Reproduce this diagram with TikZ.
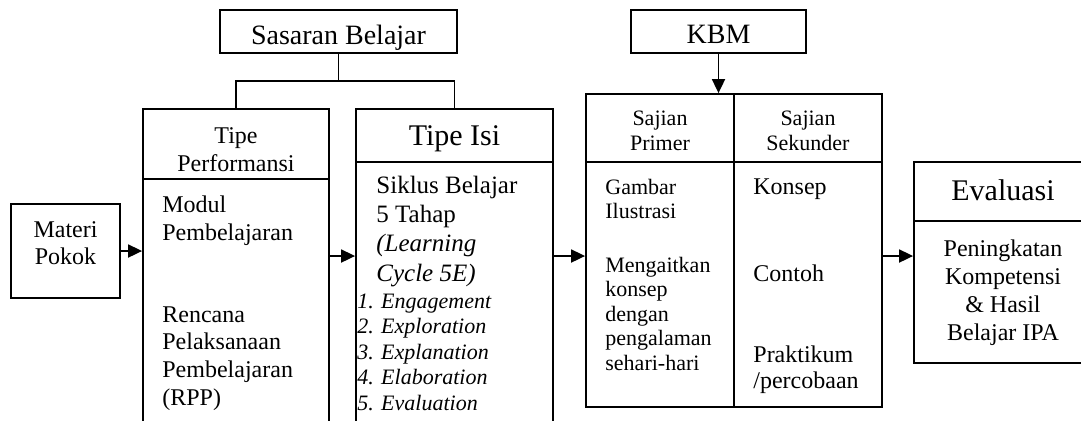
\documentclass[tikz,border=0pt]{standalone}
\usepackage{fontspec}
\setmainfont{Liberation Serif}
\usetikzlibrary{arrows.meta}

\begin{document}
\begin{tikzpicture}[x=0.5pt,y=-0.5pt,
    box/.style={draw,line width=0.9pt,inner sep=0pt},
    txt/.style={inner sep=0pt,align=left,anchor=base west},
    ctr/.style={inner sep=0pt,align=center,anchor=base},
    link/.style={line width=0.9pt},
    arr/.style={line width=0.9pt,-{Triangle[length=7pt,width=6.5pt]}}]
  \useasboundingbox (0,0) rectangle (1081,420);
  % Top boxes
  \node[box,minimum width=118.5pt,minimum height=21.5pt] (sasaran) at (338.5,31.5) {};
  \node[box,minimum width=87.5pt,minimum height=21.5pt] (kbm) at (718.5,31.5) {};
  % Materi Pokok
  \node[box,minimum width=54.5pt,minimum height=47pt] (materi) at (65.5,251) {};
  % Tipe Performansi
  \node[box,minimum width=93pt,minimum height=35pt] (tpHead) at (236,144) {};
  \node[box,minimum width=93pt,minimum height=125.5pt] (tpBody) at (236,304.5) {};
  % Tipe Isi
  \node[box,minimum width=98.5pt,minimum height=26.5pt] (tiHead) at (454.5,135.5) {};
  \node[box,minimum width=98.5pt,minimum height=134pt] (tiBody) at (454.5,296) {};
  % KBM table
  \node[box,minimum width=74pt,minimum height=34pt] (priHead) at (660,128) {};
  \node[box,minimum width=74pt,minimum height=34pt] (sekHead) at (808,128) {};
  \node[box,minimum width=74pt,minimum height=122.5pt] (priBody) at (660,284.5) {};
  \node[box,minimum width=74pt,minimum height=122.5pt] (sekBody) at (808,284.5) {};
  % Evaluasi
  \node[box,minimum width=89pt,minimum height=29.5pt] (evHead) at (1003,191.5) {};
  \node[box,minimum width=89pt,minimum height=71pt] (evBody) at (1003,292) {};

  % Labels (multi-line ones sit on the baseline of their last line)
  \node[ctr,font=\fontsize{14}{16}\selectfont] (sasaranTxt) at (338.5,44) {Sasaran Belajar};
  \node[ctr,font=\fontsize{14}{16}\selectfont] (kbmTxt) at (718.5,43) {KBM};
  \node[ctr,font=\fontsize{12}{13.5}\selectfont] (materiTxt) at (65.5,264) {Materi\\Pokok};
  \node[ctr,font=\fontsize{12}{14}\selectfont] (tpTitle) at (236,171) {Tipe\\Performansi};
  \node[txt,font=\fontsize{12}{14}\selectfont] (tpModul) at (162,240) {Modul\\Pembelajaran};
  \node[txt,font=\fontsize{12}{13.8}\selectfont] (tpRpp) at (162,405) {Rencana\\Pelaksanaan\\Pembelajaran\\(RPP)};
  \node[ctr,font=\fontsize{15}{17}\selectfont] (tiTitle) at (454.5,145) {Tipe Isi};
  \node[txt,font=\fontsize{12.5}{14.6}\selectfont] (tiSiklus) at (376,281) {Siklus Belajar\\5 Tahap\\\textit{(Learning}\\\textit{Cycle 5E)}};
  \node[txt,font=\fontsize{11}{12.7}\selectfont\itshape] (tiList) at (357,410) {1. Engagement\\2. Exploration\\3. Explanation\\4. Elaboration\\5. Evaluation};
  \node[ctr,font=\fontsize{11}{12.5}\selectfont] (priTitle) at (660,150) {Sajian\\Primer};
  \node[ctr,font=\fontsize{11}{12.5}\selectfont] (sekTitle) at (808,150) {Sajian\\Sekunder};
  \node[txt,font=\fontsize{11}{12}\selectfont] (priGambar) at (605,218) {Gambar\\Ilustrasi};
  \node[txt,font=\fontsize{11}{12.2}\selectfont] (priKaitan) at (605,370) {Mengaitkan\\konsep\\dengan\\pengalaman\\sehari-hari};
  \node[txt,font=\fontsize{12}{13}\selectfont] (sekKonsep) at (753,194) {Konsep};
  \node[txt,font=\fontsize{12}{13}\selectfont] (sekContoh) at (753,281) {Contoh};
  \node[txt,font=\fontsize{12}{13}\selectfont] (sekPraktikum) at (753,388) {Praktikum\\/percobaan};
  \node[ctr,font=\fontsize{15}{17}\selectfont] (evTitle) at (1003,200) {Evaluasi};
  \node[ctr,font=\fontsize{12}{13.9}\selectfont] (evHasil) at (1003,340) {Peningkatan\\Kompetensi\\\& Hasil\\Belajar IPA};

  % Connectors
  \coordinate (branch) at (338.5,81);
  \coordinate (flow) at (0,256);
  \draw[link] (sasaran.south) -- (branch);
  \draw[link] (tpHead.north) |- (branch) -| (tiHead.north);
  \draw[arr] (kbm.south) -- (priHead.north -| kbm.south);
  \draw[arr] (materi.east) -- (materi.east -| tpBody.west);
  \draw[arr] (tpBody.east |- flow) -- (tiBody.west |- flow);
  \draw[arr] (tiBody.east |- flow) -- (priBody.west |- flow);
  \draw[arr] (sekBody.east |- flow) -- (evBody.west |- flow);
\end{tikzpicture}
\end{document}
